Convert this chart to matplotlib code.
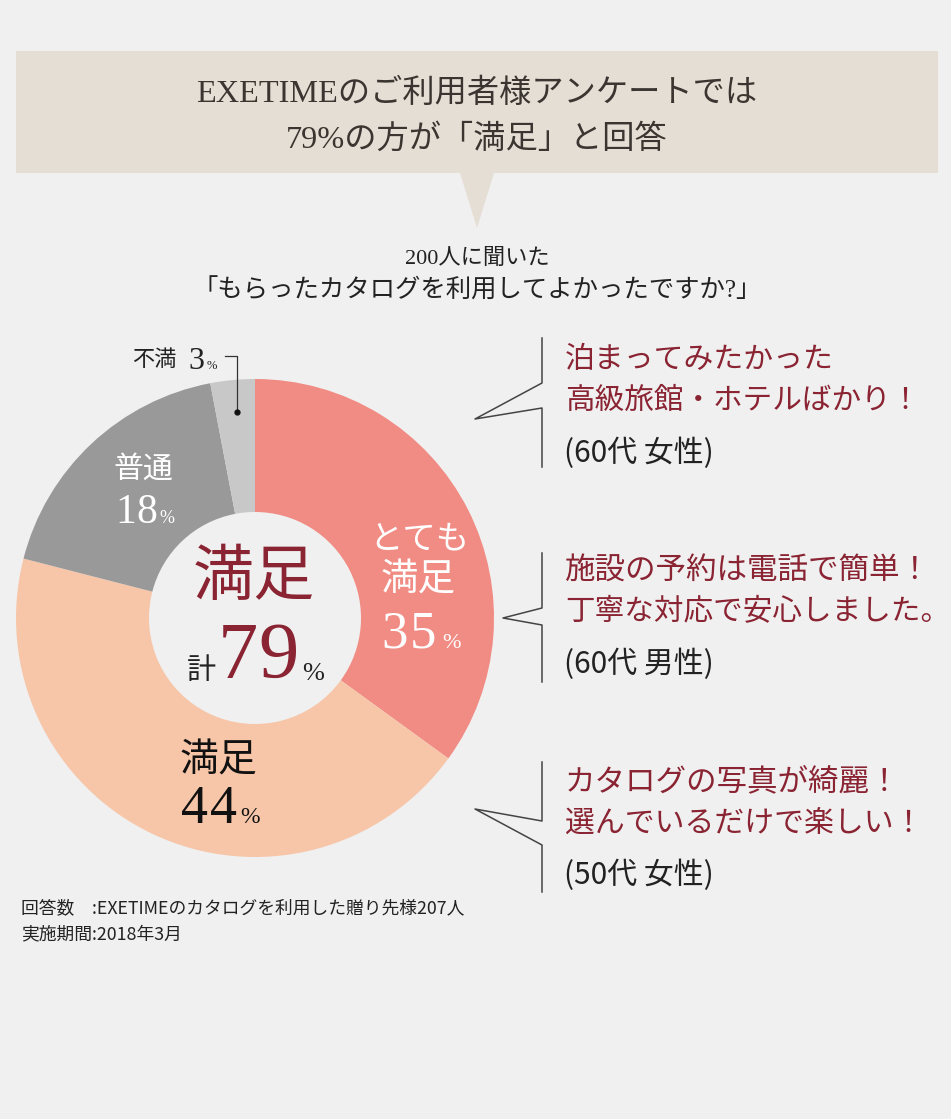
import matplotlib
matplotlib.use("Agg")
import matplotlib.pyplot as plt
from matplotlib.patches import Rectangle, Polygon

plt.rcParams['font.family'] = ['Liberation Serif', 'Noto Sans CJK JP', 'DejaVu Sans']
SANS = ['Noto Sans CJK JP', 'DejaVu Sans']

# data
labels = ['とても満足', '満足', '普通', '不満']
values = [35, 44, 18, 3]
colors = ['#F18C84', '#F7C6A9', '#999999', '#C8C8C8']
total_label = 79

title_lines = ['EXETIMEのご利用者様アンケートでは', '79%の方が「満足」と回答']
sub_lines = ['200人に聞いた', '「もらったカタログを利用してよかったですか?」']
comments = [
    ['泊まってみたかった', '高級旅館・ホテルばかり\uff01'],
    ['施設の予約は電話で簡単\uff01', '丁寧な対応で安心しました。'],
    ['カタログの写真が綺麗\uff01', '選んでいるだけで楽しい\uff01'],
]
ages = ['(60代 女性)', '(60代 男性)', '(50代 女性)']
notes = ['回答数\u3000:EXETIMEのカタログを利用した贈り先様207人', '実施期間:2018年3月']

BG = '#F0F0F0'
BEIGE = '#E5DED5'
RED = '#8A2433'
DARK = '#222222'

W, H = 951, 1119
fig = plt.figure(figsize=(W / 100, H / 100), dpi=100, facecolor=BG)

# background layer in pixel coordinates
ax = fig.add_axes([0, 0, 1, 1])
ax.set_xlim(0, W)
ax.set_ylim(H, 0)
ax.axis('off')

ax.add_patch(Rectangle((16, 51), 922, 122, fc=BEIGE, ec='none'))
ax.add_patch(Polygon([(460, 173), (494, 173), (477, 228)], fc=BEIGE, ec='none'))

ax.text(477, 94, title_lines[0], ha='center', va='center', fontsize=23.2, color='#3A3530')
ax.text(477, 139, title_lines[1], ha='center', va='center', fontsize=23.2, color='#3A3530')
ax.text(477, 259, sub_lines[0], ha='center', va='center', fontsize=16, color=DARK)
ax.text(477, 291, sub_lines[1], ha='center', va='center', fontsize=18.3, color=DARK)

# donut
cx, cy, r = 255, 618, 239
pie_ax = fig.add_axes([(cx - r) / W, 1 - (cy + r) / H, 2 * r / W, 2 * r / H])
pie_ax.pie(values, colors=colors, startangle=90, counterclock=False, radius=1,
           wedgeprops=dict(width=1 - 106 / 239, linewidth=0))
pie_ax.set_xlim(-1, 1)
pie_ax.set_ylim(-1, 1)
pie_ax.patch.set_alpha(0)

# labels on top of the donut
top = fig.add_axes([0, 0, 1, 1])
top.set_xlim(0, W)
top.set_ylim(H, 0)
top.axis('off')
top.patch.set_alpha(0)


def pct(x, y, num, color, size, pitch):
    # number with wide tracking, returns where the percent sign can start
    for i, ch in enumerate(str(num)):
        top.text(x + i * pitch, y, ch, ha='left', va='baseline', fontsize=size, color=color)
    return x + len(str(num)) * pitch


end = pct(381, 648, values[0], 'white', 38, 29)
top.text(end + 3, 648, '%', ha='left', va='baseline', fontsize=16, color='white')
top.text(419, 540, 'とても', ha='center', va='center', fontsize=24, color='white')
top.text(418, 581, '満足', ha='center', va='center', fontsize=27, color='white')

end = pct(181, 823, values[1], '#111111', 39, 29)
top.text(end + 1, 823, '%', ha='left', va='baseline', fontsize=17, color='#111111')
top.text(218, 762, '満足', ha='center', va='center', fontsize=28, color='#111111')

end = pct(115, 523, values[2], 'white', 30, 21)
top.text(end + 2, 523, '%', ha='left', va='baseline', fontsize=13, color='white')
top.text(143, 470, '普通', ha='center', va='center', fontsize=21.5, color='white')

top.text(154, 361, '不満', ha='center', va='center', fontsize=16, color=DARK)
top.text(188, 369, str(values[3]), ha='left', va='baseline', fontsize=23, color=DARK)
top.text(207, 369, '%', ha='left', va='baseline', fontsize=9, color=DARK)
top.plot([225, 237, 237], [356, 356, 412], color='#333333', lw=0.9)
top.plot([237], [412], 'o', color='#111111', ms=3.5)

# center
top.text(254, 580, '満足', ha='center', va='center', fontsize=44, color=RED)
top.text(201, 672, '計', ha='center', va='center', fontsize=21, color=DARK)
end = pct(218, 678, total_label, RED, 58, 40)
top.text(302, 680, '%', ha='left', va='baseline', fontsize=19, color=DARK)

# callouts
callouts = [
    [(542, 338), (542, 383), (475, 419), (542, 408), (542, 467)],
    [(542, 553), (542, 608), (503, 618), (542, 625), (542, 682)],
    [(542, 762), (542, 821), (475, 809), (542, 845), (542, 892)],
]
comment_y = [(360, 401, 453), (572, 612, 664), (783, 824, 875)]
comment_size = [(21.5, 21.3), (22, 21.3), (22, 21.5)]
for pts, lines, age, ys, sizes in zip(callouts, comments, ages, comment_y, comment_size):
    top.plot([p[0] for p in pts], [p[1] for p in pts], color='#444444', lw=1.1)
    top.text(565, ys[0], lines[0], ha='left', va='center', fontsize=sizes[0], color=RED)
    top.text(565, ys[1], lines[1], ha='left', va='center', fontsize=sizes[1], color=RED)
    top.text(564, ys[2], age, ha='left', va='center', fontsize=21.5, color=DARK, family=SANS)

top.text(21, 908, notes[0], ha='left', va='center', fontsize=12.8, color=DARK, family=SANS)
top.text(21, 934, notes[1], ha='left', va='center', fontsize=12.8, color=DARK, family=SANS)

fig.savefig('out.png', dpi=100, facecolor=BG)
